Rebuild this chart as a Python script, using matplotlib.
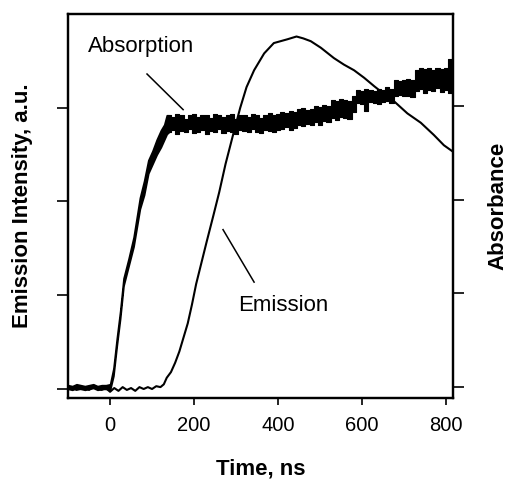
#!/usr/bin/env python3

# transient emission / absorption traces on twin y axes
import matplotlib
matplotlib.use('Agg')
import matplotlib.pyplot as plt

plt.rcParams['font.family'] = ['Liberation Sans', 'DejaVu Sans']

# emission trace, left axis (a.u.)
t_em = [-100, -90, -80, -70, -60, -50, -40, -30, -20, -10, 0, 10, 20, 30, 40,
        50, 60, 70, 80, 90, 100, 110, 120, 128, 135, 145, 155, 165, 175, 185,
        195, 205, 215, 230, 246, 260, 275, 294, 310, 325, 343, 367, 390, 422,
        444, 460, 478, 502, 533, 557, 581, 605, 629, 660, 676, 708, 740, 771,
        795, 817]
emission = [0.0, 0.01, -0.01, 0.0, 0.01, -0.01, 0.02, 0.0, -0.01, 0.01, -0.03,
            0.01, -0.02, 0.02, -0.01, 0.01, -0.02, 0.02, 0.0, 0.02, 0.0, 0.03,
            0.02, 0.05, 0.12, 0.18, 0.28, 0.40, 0.55, 0.70, 0.90, 1.12, 1.30,
            1.57, 1.85, 2.10, 2.40, 2.73, 3.00, 3.22, 3.40, 3.58, 3.69, 3.73,
            3.76, 3.74, 3.71, 3.64, 3.53, 3.46, 3.40, 3.32, 3.23, 3.12, 3.07,
            2.94, 2.84, 2.71, 2.60, 2.53]

# absorption trace, right axis: the noisy signal drawn as a low/high band
# rise part (smooth edges)
t_rise = [-100, -90, -80, -70, -60, -50, -40, -30, -20, -10, 0, 8, 16, 24, 32,
          44, 56, 71, 81, 91, 101, 111, 121, 129, 135, 140]
rise_lo = [-0.02, -0.03, -0.01, -0.02, -0.03, -0.02, -0.01, -0.03, -0.02,
           -0.02, -0.03, 0.12, 0.44, 0.73, 1.08, 1.29, 1.50, 1.90, 2.05, 2.28,
           2.38, 2.48, 2.56, 2.64, 2.70, 2.72]
rise_hi = [0.02, 0.01, 0.03, 0.02, 0.01, 0.02, 0.03, 0.01, 0.02, 0.02, 0.03,
           0.20, 0.52, 0.81, 1.16, 1.37, 1.60, 2.02, 2.20, 2.42, 2.52, 2.64,
           2.74, 2.80, 2.90, 2.90]
# plateau and slow growth (blocky, stepped edges)
t_plat = [140, 150, 160, 170, 180, 190, 200, 210, 220, 230, 240, 250, 260,
          270, 280, 290, 300, 310, 320, 330, 340, 350, 360, 370, 380, 390, 400,
          410, 420, 430, 440, 450, 460, 470, 480, 490, 500, 510, 520, 530, 540,
          550, 560, 570, 580, 590, 600, 610, 620, 630, 640, 650, 660, 670, 680,
          690, 700, 710, 720, 730, 740, 750, 760, 770, 780, 790, 800, 810, 817]
plat_hi = [2.90, 2.88, 2.91, 2.90, 2.86, 2.90, 2.91, 2.88, 2.90, 2.90, 2.87,
           2.91, 2.90, 2.88, 2.90, 2.91, 2.86, 2.90, 2.90, 2.88, 2.91, 2.90,
           2.87, 2.90, 2.92, 2.90, 2.91,
           2.93, 2.92, 2.95, 2.93, 2.97, 2.98, 2.96, 2.97, 3.00, 2.99, 3.01,
           3.00, 3.06, 3.05, 3.07, 3.06, 3.05, 3.10, 3.17, 3.16, 3.18, 3.17,
           3.16, 3.18, 3.17, 3.20, 3.18, 3.28, 3.27, 3.28, 3.29, 3.28, 3.38,
           3.40, 3.39, 3.40, 3.38, 3.40, 3.39, 3.40, 3.50, 3.40]
plat_lo = [2.72, 2.74, 2.70, 2.73, 2.72, 2.75, 2.71, 2.72, 2.74, 2.70, 2.73,
           2.72, 2.75, 2.71, 2.73, 2.72, 2.70, 2.74, 2.73, 2.72, 2.75, 2.72,
           2.71, 2.74, 2.73, 2.72, 2.74,
           2.75, 2.77, 2.74, 2.76, 2.80, 2.79, 2.81, 2.80, 2.83, 2.80, 2.84,
           2.83, 2.87, 2.85, 2.88, 2.87, 2.86, 2.93, 3.03, 3.02, 2.94, 3.04,
           3.03, 3.02, 3.04, 3.05, 3.03, 3.10, 3.12, 3.10, 3.11, 3.09, 3.16,
           3.18, 3.14, 3.17, 3.16, 3.19, 3.15, 3.17, 3.14, 3.16]

x_ticks = [0, 200, 400, 600, 800]
y_ticks = [0, 1, 2, 3]

fig = plt.figure(figsize=(5.08, 4.83), dpi=100)
ax = fig.add_axes([0.134, 0.176, 0.758, 0.795])
ax2 = ax.twinx()

ax.plot(t_em, emission, color='black', lw=1.5, zorder=3)
ax2.fill_between(t_rise, rise_lo, rise_hi, color='black', lw=1.2,
                 edgecolor='black')
ax2.fill_between(t_plat, plat_lo, plat_hi, step='mid', color='black', lw=0.8,
                 edgecolor='black')

ax.set_xlim(-100, 817)
ax.set_ylim(-0.096, 4.0)
ax2.set_ylim(-0.117, 3.98)

ax.set_xticks(x_ticks)
ax.set_yticks(y_ticks)
ax2.set_yticks(y_ticks)
ax.set_yticklabels([])
ax2.set_yticklabels([])

ax.tick_params(axis='x', direction='out', length=5, width=1.2,
               labelsize=14.5, pad=8, top=False)
ax2.tick_params(axis='x', direction='in', length=6, width=1.2,
                top=True, bottom=False, labeltop=False, labelbottom=False)
ax.tick_params(axis='y', direction='out', length=8, width=1.2)
ax2.tick_params(axis='y', direction='out', length=8, width=1.2)

for a in (ax, ax2):
    for s in a.spines.values():
        s.set_linewidth(1.6)

ax.set_xlabel('Time, ns', fontsize=16, fontweight='bold', labelpad=17)
ax.set_ylabel('Emission Intensity, a.u.', fontsize=16, fontweight='bold',
              labelpad=14)
ax2.set_ylabel('Absorbance', fontsize=16, fontweight='bold', labelpad=13)

# curve labels with leader lines
ax.text(74, 3.65, 'Absorption', fontsize=16, ha='center', va='center')
ax.plot([88, 174], [3.36, 2.98], color='black', lw=1.1)
ax.text(412, 0.89, 'Emission', fontsize=16, ha='center', va='center')
ax.plot([269, 343], [1.70, 1.14], color='black', lw=1.1)

fig.savefig('out.png', dpi=100)
